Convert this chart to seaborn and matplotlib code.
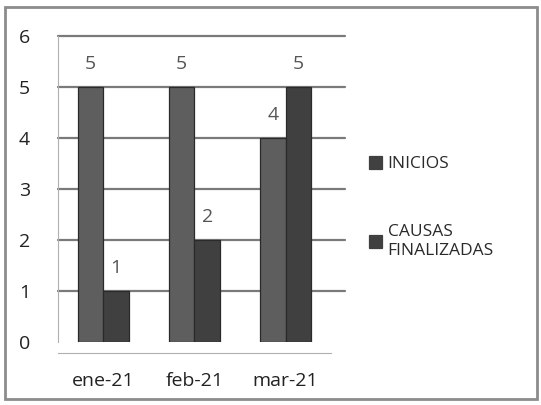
import numpy as np
import pandas as pd
import matplotlib
matplotlib.use('Agg')
import matplotlib.pyplot as plt
import seaborn as sns

months = ['ene-21', 'feb-21', 'mar-21']
inicios = [5, 5, 4]
causas_finalizadas = [1, 2, 5]
series = ['INICIOS', 'CAUSAS\nFINALIZADAS']

df = pd.DataFrame({
    'mes': months * 2,
    'serie': [series[0]] * 3 + [series[1]] * 3,
    'valor': inicios + causas_finalizadas,
})

sns.set_style('white')
plt.rcParams['font.family'] = ['Open Sans', 'DejaVu Sans']

fig = plt.figure(figsize=(5.41, 4.05), dpi=100)
ax = fig.add_axes([0.107, 0.156, 0.505, 0.755])

sns.barplot(data=df, x='mes', y='valor', hue='serie',
            palette=['#5e5e5e', '#404040'], width=0.56,
            edgecolor='#2a2a2a', linewidth=0.9, saturation=1, ax=ax)

for cont in ax.containers:
    ax.bar_label(cont, padding=10, fontsize=14, color='#555555')

ax.set_ylim(0, 6)
ax.set_yticks(range(0, 7))
ax.set_xlim(-0.5, 2.5)
# gridlines run a little past the plot, like the Excel 3D walls
for v in range(1, 7):
    ax.plot([-0.5, 2.65], [v, v], color='#7a7a7a', linewidth=1.6,
            clip_on=False, zorder=0.5)
ax.set_xlabel('')
ax.set_ylabel('')
ax.tick_params(axis='y', labelsize=14, colors='#222222', length=6, width=1.4,
               pad=14, color='#8a8a8a')
ax.tick_params(axis='x', labelsize=14, colors='#222222', length=0, pad=14)
ax.set_xticks([-0.5, 0.5, 1.5, 2.5], minor=True)
ax.tick_params(axis='x', which='minor', length=5, color='#999999')
for s in ['top', 'right']:
    ax.spines[s].set_visible(False)
ax.spines['left'].set_color('#b0b0b0')
ax.spines['bottom'].set_color('#b0b0b0')
ax.spines['bottom'].set_position(('outward', 8))

leg = ax.legend(loc='center left', bbox_to_anchor=(1.08, 0.44), frameon=False,
                fontsize=12.5, handlelength=0.8, handleheight=0.8,
                handletextpad=0.3, labelspacing=3.0)
for h in leg.legend_handles:
    h.set_facecolor('#404040')
    h.set_edgecolor('#404040')
for t in leg.get_texts():
    t.set_color('#2a2a2a')

# outer frame of the chart area
fig.patches.append(plt.Rectangle((0.01, 0.015), 0.982, 0.968, transform=fig.transFigure,
                                 fill=False, edgecolor='#8c8c8c', linewidth=2))

fig.savefig('out.png', dpi=100)
